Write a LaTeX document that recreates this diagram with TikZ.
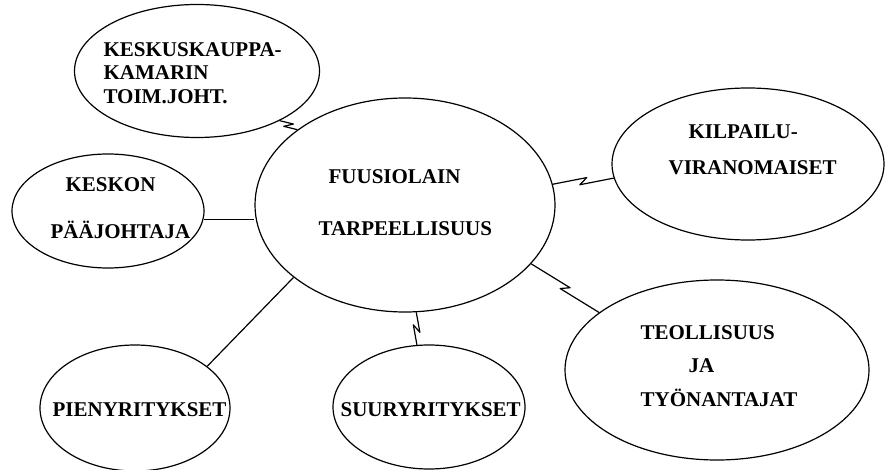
\documentclass[tikz,border=0pt]{standalone}
\usepackage{fontspec}
\setmainfont{Liberation Serif}
\usetikzlibrary{calc, shapes.geometric}

\begin{document}
\begin{tikzpicture}[x=1pt, y=-1pt,
            blob/.style 2 args = {ellipse, draw, line width=1.2pt, inner sep=0pt,
                         minimum width=#1, minimum height=#2},
            txt/.style = {font=\bfseries\fontsize{21}{#1}\selectfont, inner sep=0pt,
                         align=left, anchor=west},
            txt/.default = 24,
            zap/.style = {to path={
                         -- ($(\tikztostart)!.5!(\tikztotarget)!5pt!40:(\tikztotarget)$)
                         -- ($(\tikztostart)!.5!(\tikztotarget)!5pt!220:(\tikztotarget)$)
                         -- (\tikztotarget)}},
            every path/.style = {line width=1.2pt, line join=round}
        ]
            \useasboundingbox (0,0) rectangle (885,470);

            \node (fuusio) at (405,205) [blob={300}{214}] {};
            \node (kauppa) at (197,71) [blob={245}{133}] {};
            \node (keskon) at (108,211) [blob={192}{114}] {};
            \node (pieny) at (135,408) [blob={190}{126}] {};
            \node (suury) at (429,407) [blob={192}{124}] {};
            \node (kilpailu) at (748,164) [blob={272}{152}] {};
            \node (teoll) at (717,370) [blob={304}{180}] {};

            \node (fuusio-t) at (318,203) [txt=52] {\hspace*{10pt}FUUSIOLAIN\\TARPEELLISUUS};
            \node (kauppa-t) at (103,73) [txt=23.5] {KESKUSKAUPPA-\\KAMARIN\\TOIM.JOHT.};
            \node (keskon-t) at (50,208) [txt=47] {\hspace*{15pt}KESKON\\PÄÄJOHTAJA};
            \node (pieny-t) at (52,410) [txt] {PIENYRITYKSET};
            \node (suury-t) at (340,410) [txt] {SUURYRITYKSET};
            \node (kilpailu-t) at (668,150) [txt=36] {\hspace*{20pt}KILPAILU-\\VIRANOMAISET};
            \node (teoll-t) at (640,366) [txt=33.5] {TEOLLISUUS\\\hspace*{48pt}JA\\TYÖNANTAJAT};

            %
            \draw (kauppa.-31) to[zap] (fuusio.145);
            \draw (keskon.-5) -- (keskon.-5 -| fuusio.west);
            \draw (pieny.30) -- (fuusio.213);
            \draw (fuusio.-84) to[zap] (suury.101);
            \draw (fuusio.8) to[zap] (kilpailu.186);
            \draw (fuusio.-25) to[zap] (teoll.154);
        \end{tikzpicture}
\end{document}
